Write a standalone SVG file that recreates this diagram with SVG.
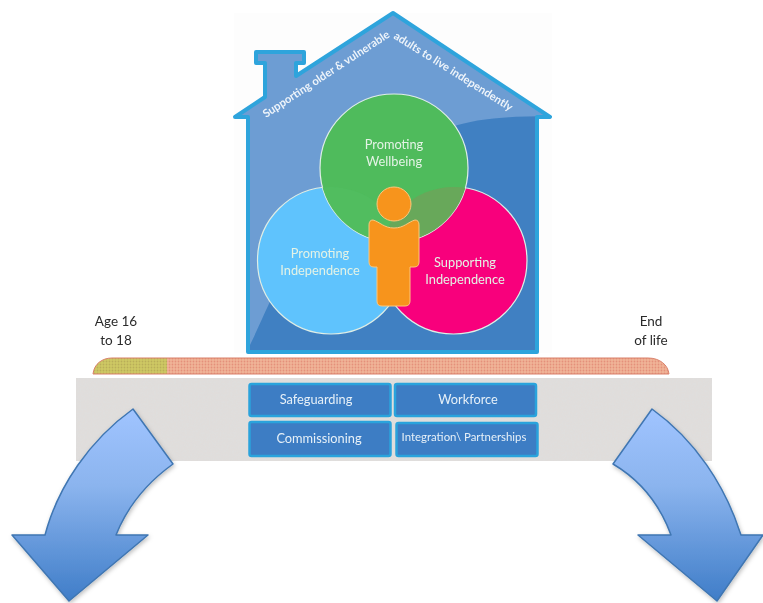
<svg xmlns="http://www.w3.org/2000/svg" width="763" height="603" viewBox="0 0 763 603">
<style>
text{font-family:Lato,"Open Sans","Liberation Sans",sans-serif;text-anchor:middle}
.w{fill:#e4f3e6;font-size:12.8px}
.d{fill:#2b2b2b;font-size:13.5px}
.b{fill:#e6f0f8;font-size:12.8px}
.box{fill:#3d7dc4;stroke:#2ba3dc;stroke-width:2.5}
.arr{fill:url(#ag);stroke:#3f76b2;stroke-width:1.5;stroke-linejoin:round;filter:url(#sh)}
.c{stroke:#dfeee6;stroke-width:1.2}
.roof{font-size:11.2px;font-weight:700;fill:#eef4fa;text-anchor:start}
</style>
<defs>
<linearGradient id="ag" x1="0" y1="0" x2="0" y2="1"><stop offset="0" stop-color="#a0c4ff"/><stop offset=".4" stop-color="#8bb4ee"/><stop offset="1" stop-color="#3f7dc8"/></linearGradient>
<pattern id="pr" width="3" height="3" patternUnits="userSpaceOnUse"><rect width="3" height="3" fill="#f0b498"/><circle cx="1.500" cy="1.500" r=".9" fill="#e4907a"/></pattern>
<pattern id="pg" width="3" height="3" patternUnits="userSpaceOnUse"><rect width="3" height="3" fill="#cfc965"/><circle cx="1.500" cy="1.500" r=".9" fill="#b9ae58"/></pattern>
<filter id="n" x="0" y="0" width="100%" height="100%"><feTurbulence type="fractalNoise" baseFrequency=".55" numOctaves="2" seed="4"/><feColorMatrix values="0 0 0 0 .74 0 0 0 0 .73 0 0 0 0 .72 4 0 0 0 -1.700"/><feComposite in2="SourceGraphic" operator="in" result="t"/><feMerge><feMergeNode in="SourceGraphic"/><feMergeNode in="t"/></feMerge></filter>
<filter id="sh" x="-20%" y="-20%" width="140%" height="140%"><feDropShadow dx="1" dy="2" stdDeviation="2" flood-color="#000" flood-opacity=".25"/></filter>
<filter id="soft" x="-2%" y="-2%" width="104%" height="104%"><feGaussianBlur stdDeviation=".45"/></filter>
<path id="rl" d="M266 118 L405 27"/>
<path id="rr" d="M393 38 L530 124"/>
<clipPath id="hc"><path d="M393 13 L550 117 L537 117 L537 352 L248 352 L248 117 L235 117 L265 97 L265 63 L256 63 L256 52 L304 52 L304 63 L296 63 L296 76 Z"/></clipPath>
<clipPath id="gc"><circle cx="394" cy="168" r="74"/></clipPath>
</defs>
<rect width="763" height="603" fill="#fff"/>
<rect x="234" y="13" width="318" height="340" fill="#fdfdfd"/>
<g id="platform">
<rect x="76" y="378" width="636" height="83" fill="#e0dddb" filter="url(#n)"/>
</g>
<g filter="url(#soft)">
<g id="lifeline">
<path d="M93 374 C94 364 102 358 112 358 L167 358 L167 374 Z" fill="url(#pg)"/>
<path d="M167 358 L648 358 C660 358 668 365 669 374 L167 374 Z" fill="url(#pr)"/>
<path d="M93 374 C94 364 102 358 112 358 L648 358 C660 358 668 365 669 374 Z" fill="none" stroke="#d9806a" stroke-width="1"/>
</g>
<g id="house">
<path d="M393 13 L550 117 L537 117 L537 352 L248 352 L248 117 L235 117 L265 97 L265 63 L256 63 L256 52 L304 52 L304 63 L296 63 L296 76 Z" fill="#4080c2"/>
<path clip-path="url(#hc)" d="M230 0 H555 V116 C470 116 440 125 420 150 C400 190 320 190 290 260 C270 300 262 320 250 345 L230 350 Z" fill="#6d9dd3"/>
<path d="M393 13 L550 117 L537 117 L537 352 L248 352 L248 117 L235 117 L265 97 L265 63 L256 63 L256 52 L304 52 L304 63 L296 63 L296 76 Z" fill="none" stroke="#2fa4dc" stroke-width="4" stroke-linejoin="round"/>
<text class="roof"><textPath href="#rl" startOffset="0">Supporting older &amp; vulnerable</textPath></text>
<text class="roof"><textPath href="#rr" startOffset="0">adults to live independently</textPath></text>
</g>
<g id="promoting-independence">
<circle class="c" cx="331" cy="260.500" r="73.500" fill="#5fc3fd"/>
<text class="w" x="320" y="258">Promoting</text>
<text class="w" x="320" y="275">Independence</text>
</g>
<g id="supporting-independence">
<circle class="c" cx="453.500" cy="260.500" r="73.500" fill="#f8007c"/>
<text class="w" x="465" y="267">Supporting</text>
<text class="w" x="465" y="284">Independence</text>
</g>
<g id="promoting-wellbeing">
<circle class="c" cx="394" cy="168" r="74" fill="#4fbb5b"/>
<circle cx="331" cy="260.500" r="73.500" fill="#51bd5f" clip-path="url(#gc)"/>
<circle cx="453.500" cy="260.500" r="73.500" fill="#68a85a" clip-path="url(#gc)"/>
<text class="w" x="394" y="149">Promoting</text>
<text class="w" x="394" y="166">Wellbeing</text>
</g>
<g id="person">
<path d="M373 220 C380 222 384 228 394 228 C404 228 408 222 415 220 Q419 220 419 225 L419 262 Q419 267 414 267 L410 267 L410 301 Q410 306 405 306 L382 306 Q377 306 377 301 L377 267 L374 267 Q369 267 369 262 L369 225 Q369 220 373 220 Z" fill="#f7941e" stroke="#fbc77c" stroke-width="1"/>
<circle cx="394" cy="204" r="17" fill="#f7941e" stroke="#fbc77c" stroke-width="1"/>
</g>
<g id="safeguarding"><rect class="box" x="249.500" y="384" width="141" height="32" rx="2"/><text class="b" x="316" y="404">Safeguarding</text></g>
<g id="workforce"><rect class="box" x="395" y="384" width="141" height="32" rx="2"/><text class="b" x="468" y="404">Workforce</text></g>
<g id="commissioning"><rect class="box" x="249.500" y="422" width="141" height="34" rx="2"/><text class="b" x="319" y="443">Commissioning</text></g>
<g id="integration"><rect class="box" x="396.500" y="423" width="141" height="33" rx="2"/><text class="b" x="464" y="441" style="font-size:11.400px">Integration\ Partnerships</text></g>
<g id="age"><text class="d" x="116" y="326">Age 16</text><text class="d" x="116" y="345">to 18</text></g>
<g id="end"><text class="d" x="651" y="326">End</text><text class="d" x="651" y="345">of life</text></g>
</g>
<g id="connectors">
<path class="arr" d="M133 409 L173 464 C148 482 128 505 116 535 L148 535 L69 601 L12 535 L45 535 C58 486 90 440 133 409 Z"/>
<path class="arr" d="M652 409 L613 464 C640 480 660 505 671 535 L638 535 L717 601 L763 535 L741 535 C725 485 695 440 652 409 Z"/>
</g>
</svg>
